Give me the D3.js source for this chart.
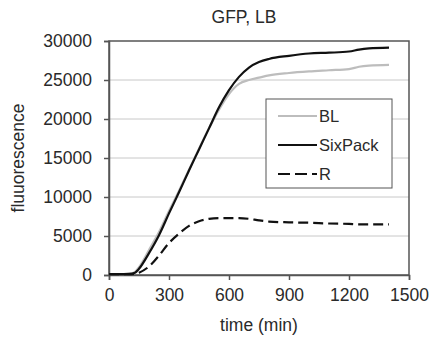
<!DOCTYPE html>
<html>
<head>
<meta charset="utf-8">
<script src="https://cdn.jsdelivr.net/npm/d3@7"></script>
<style>
  html, body { margin: 0; padding: 0; background: #fff; }
  svg { display: block; font-family: "Liberation Sans", Arial, sans-serif; }
</style>
</head>
<body>
<svg id="chart" width="430" height="341"></svg>
<script>
// time points (min)
const times = [0, 50, 100, 130, 150, 200, 250, 300, 350, 400, 450, 500, 550, 600, 650, 700, 750, 800, 900, 1000, 1100, 1200, 1250, 1300, 1400];

const blValues =      [100, 100, 150, 400, 1000, 3200, 5500, 8200, 10800, 13500, 16200, 18800, 21200, 23200, 24500, 25000, 25300, 25600, 25900, 26100, 26250, 26400, 26700, 26850, 26950];
const sixPackValues = [100, 100, 150, 300, 800, 2800, 5100, 7900, 10600, 13400, 16100, 18800, 21500, 23700, 25400, 26600, 27300, 27700, 28100, 28400, 28500, 28650, 28900, 29050, 29150];
const rValues =       [100, 100, 100, 150, 300, 1100, 2500, 4100, 5300, 6300, 6900, 7200, 7300, 7300, 7300, 7200, 7000, 6850, 6750, 6700, 6600, 6550, 6500, 6500, 6500];

const seriesNames = ['BL', 'SixPack', 'R'];
const xTicks = [0, 300, 600, 900, 1200, 1500];
const yTicks = [0, 5000, 10000, 15000, 20000, 25000, 30000];

const svg = d3.select('#chart');
const margin = { top: 41, right: 21, bottom: 66, left: 109 };
const width = 430 - margin.left - margin.right;
const height = 341 - margin.top - margin.bottom;

const x = d3.scaleLinear().domain([0, 1500]).range([0, width]);
const y = d3.scaleLinear().domain([0, 30000]).range([height, 0]);

const g = svg.append('g').attr('transform', `translate(${margin.left},${margin.top})`);

// gridlines
g.append('g')
  .selectAll('line')
  .data(yTicks.filter(d => d > 0 && d < 30000))
  .enter()
  .append('line')
  .attr('x1', 0)
  .attr('x2', width)
  .attr('y1', d => y(d))
  .attr('y2', d => y(d))
  .attr('stroke', '#c8c8c8')
  .attr('stroke-width', 1);

// frame
g.append('rect')
  .attr('x', 0).attr('y', 0)
  .attr('width', width).attr('height', height)
  .attr('fill', 'none')
  .attr('stroke', '#555')
  .attr('stroke-width', 1.5);

// axes
const xAxis = g.append('g')
  .attr('transform', `translate(0,${height})`)
  .call(d3.axisBottom(x).tickValues(xTicks).tickSize(5).tickPadding(9).tickFormat(d3.format('d')));
const yAxis = g.append('g')
  .call(d3.axisLeft(y).tickValues(yTicks).tickSize(5).tickPadding(12).tickFormat(d3.format('d')));

[xAxis, yAxis].forEach(ax => {
  ax.select('.domain').attr('stroke', '#555').attr('stroke-width', 1.5);
  ax.selectAll('.tick line').attr('stroke', '#555').attr('stroke-width', 1.5);
  ax.selectAll('.tick text')
    .attr('fill', '#2a2a2a')
    .style('font-size', '17.5px')
    .style('font-family', '"Liberation Sans", Arial, sans-serif');
});

// series
const line = d3.line()
  .x((d, i) => x(times[i]))
  .y(d => y(d))
  .curve(d3.curveMonotoneX);

const series = [
  { name: seriesNames[0], values: blValues, color: '#bdbdbd', dash: null },
  { name: seriesNames[1], values: sixPackValues, color: '#111', dash: null },
  { name: seriesNames[2], values: rValues, color: '#111', dash: '10,5' }
];

g.append('g')
  .selectAll('path')
  .data(series)
  .enter()
  .append('path')
  .attr('d', d => line(d.values))
  .attr('fill', 'none')
  .attr('stroke', d => d.color)
  .attr('stroke-width', 2.2)
  .attr('stroke-dasharray', d => d.dash);

// legend
const legend = svg.append('g').attr('transform', 'translate(266,99)');
legend.append('rect')
  .attr('width', 126).attr('height', 89)
  .attr('fill', '#fff')
  .attr('stroke', '#555')
  .attr('stroke-width', 1);

const items = legend.selectAll('g.item')
  .data(series)
  .enter()
  .append('g')
  .attr('class', 'item')
  .attr('transform', (d, i) => `translate(0,${17 + i * 29})`);

items.append('line')
  .attr('x1', 12).attr('x2', 51)
  .attr('stroke', d => d.color)
  .attr('stroke-width', 2.2)
  .attr('stroke-dasharray', d => d.dash ? '12,5' : null);

items.append('text')
  .attr('x', 53)
  .attr('dy', '0.35em')
  .attr('fill', '#2a2a2a')
  .style('font-size', '16.5px')
  .text(d => d.name);

// title and axis labels
svg.append('text')
  .attr('x', 244).attr('y', 23)
  .attr('text-anchor', 'middle')
  .attr('fill', '#2a2a2a')
  .style('font-size', '17.5px')
  .text('GFP, LB');

svg.append('text')
  .attr('x', 259).attr('y', 331)
  .attr('text-anchor', 'middle')
  .attr('fill', '#2a2a2a')
  .style('font-size', '17.5px')
  .text('time (min)');

svg.append('text')
  .attr('transform', 'translate(24,158) rotate(-90)')
  .attr('text-anchor', 'middle')
  .attr('fill', '#2a2a2a')
  .style('font-size', '17.5px')
  .text('fluuorescence');
</script>
</body>
</html>
